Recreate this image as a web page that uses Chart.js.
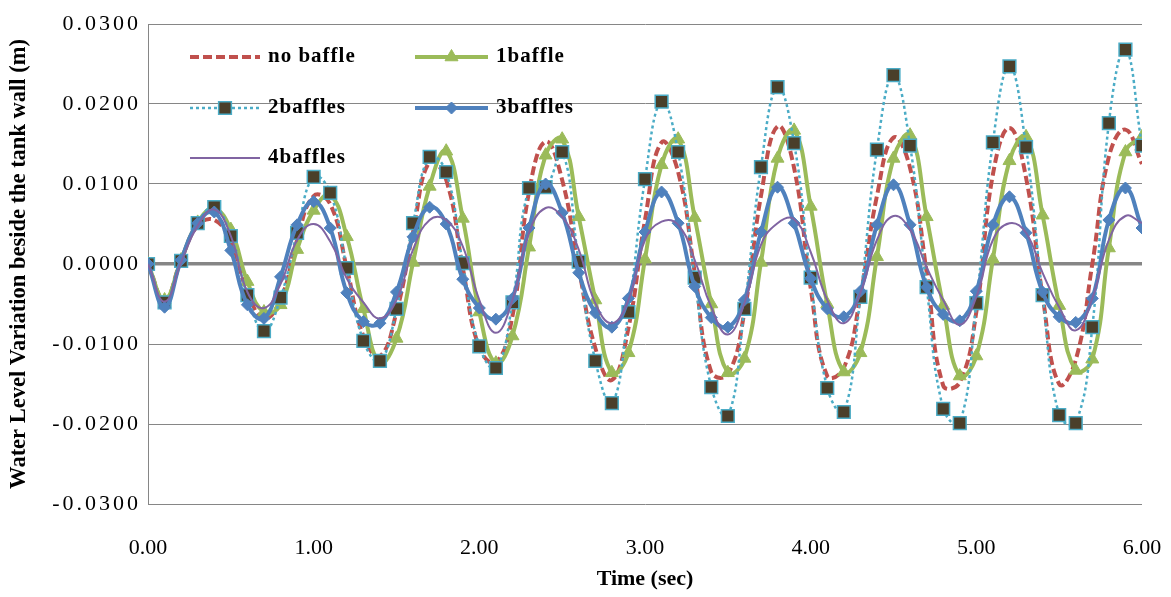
<!DOCTYPE html>
<html>
<head>
<meta charset="utf-8">
<title>Water level variation</title>
<script src="https://cdn.jsdelivr.net/npm/chart.js@4.4.0/dist/chart.umd.min.js"></script>
<style>
html, body { margin: 0; padding: 0; background: #ffffff; }
#wrap { width: 1171px; height: 597px; }
</style>
</head>
<body>
<div id="wrap"><canvas id="waveChart" width="1171" height="597"></canvas></div>
<script>
'use strict'

// 時間 (sec)
var timeSec = [0.0, 0.1, 0.2, 0.3, 0.4, 0.5, 0.6, 0.7, 0.8, 0.9,
    1.0, 1.1, 1.2, 1.3, 1.4, 1.5, 1.6, 1.7, 1.8, 1.9,
    2.0, 2.1, 2.2, 2.3, 2.4, 2.5, 2.6, 2.7, 2.8, 2.9,
    3.0, 3.1, 3.2, 3.3, 3.4, 3.5, 3.6, 3.7, 3.8, 3.9,
    4.0, 4.1, 4.2, 4.3, 4.4, 4.5, 4.6, 4.7, 4.8, 4.9,
    5.0, 5.1, 5.2, 5.3, 5.4, 5.5, 5.6, 5.7, 5.8, 5.9,
    6.0];

// 水位変動 (m)
var noBaffle = [0, -0.0045, 0.0005, 0.0048, 0.0055, 0.0028, -0.0035, -0.0068, -0.0045, 0.0030,
    0.0085, 0.0075, -0.0005, -0.0090, -0.0115, -0.0060, 0.0040, 0.0128, 0.0105, -0.0005,
    -0.0105, -0.0123, -0.0065, 0.0090, 0.0153, 0.0105, -0.0005, -0.0105, -0.0145, -0.0080,
    0.0055, 0.0152, 0.0115, -0.0010, -0.0135, -0.0138, -0.0060, 0.0085, 0.0172, 0.0120,
    -0.0030, -0.0140, -0.0130, -0.0040, 0.0085, 0.0158, 0.0120, -0.0010, -0.0152, -0.0148,
    -0.0060, 0.0112, 0.0170, 0.0108, -0.0040, -0.0150, -0.0120, 0.0000, 0.0134, 0.0168,
    0.0125];

var oneBaffle = [0, -0.0045, 0.0005, 0.0052, 0.0069, 0.0043, -0.0022, -0.0060, -0.0051, 0.0018,
    0.0067, 0.0086, 0.0034, -0.0056, -0.0123, -0.0093, 0.0002, 0.0097, 0.0141, 0.0057,
    -0.0060, -0.0124, -0.0090, 0.0021, 0.0136, 0.0156, 0.0059, -0.0045, -0.0136, -0.0111,
    0.0006, 0.0124, 0.0156, 0.0058, -0.0050, -0.0136, -0.0118, 0.0002, 0.0132, 0.0167,
    0.0072, -0.0050, -0.0135, -0.0111, 0.0009, 0.0132, 0.0161, 0.0059, -0.0052, -0.0140,
    -0.0115, 0.0006, 0.0129, 0.0159, 0.0061, -0.0052, -0.0133, -0.0119, 0.0020, 0.0140,
    0.0159];

var twoBaffles = [0, -0.0048, 0.0004, 0.0051, 0.0071, 0.0035, -0.0039, -0.0084, -0.0042, 0.0039,
    0.0109, 0.0089, -0.0005, -0.0096, -0.0121, -0.0056, 0.0051, 0.0134, 0.0115, 0.0001,
    -0.0103, -0.0130, -0.0048, 0.0095, 0.0096, 0.0140, 0.0003, -0.0121, -0.0174, -0.0060,
    0.0106, 0.0203, 0.0140, -0.0017, -0.0154, -0.0190, -0.0056, 0.0121, 0.0221, 0.0151,
    -0.0017, -0.0155, -0.0185, -0.0041, 0.0143, 0.0236, 0.0148, -0.0029, -0.0181, -0.0199,
    -0.0049, 0.0152, 0.0247, 0.0146, -0.0039, -0.0189, -0.0199, -0.0079, 0.0176, 0.0268,
    0.0148];

var threeBaffles = [0, -0.0054, 0.0005, 0.0051, 0.0065, 0.0017, -0.0051, -0.0068, -0.0016, 0.0049,
    0.0078, 0.0045, -0.0036, -0.0072, -0.0074, -0.0035, 0.0034, 0.0071, 0.0050, -0.0019,
    -0.0055, -0.0069, -0.0043, 0.0045, 0.0100, 0.0064, -0.0011, -0.0061, -0.0079, -0.0043,
    0.0040, 0.0090, 0.0051, -0.0028, -0.0067, -0.0079, -0.0045, 0.0040, 0.0096, 0.0051,
    -0.0018, -0.0056, -0.0066, -0.0034, 0.0049, 0.0099, 0.0049, -0.0029, -0.0063, -0.0071,
    -0.0034, 0.0049, 0.0084, 0.0039, -0.0035, -0.0066, -0.0073, -0.0043, 0.0055, 0.0095,
    0.0045];

var fourBaffles = [0, -0.0047, 0.0002, 0.0048, 0.0068, 0.0035, -0.0035, -0.0055, -0.0025, 0.0030,
    0.0050, 0.0028, -0.0018, -0.0048, -0.0068, -0.0045, 0.0018, 0.0055, 0.0055, 0.0022,
    -0.0045, -0.0086, -0.0045, 0.0039, 0.0070, 0.0059, 0.0018, -0.0049, -0.0074, -0.0045,
    0.0030, 0.0053, 0.0049, 0.0005, -0.0054, -0.0088, -0.0049, 0.0024, 0.0051, 0.0056,
    0.0015, -0.0045, -0.0074, -0.0036, 0.0030, 0.0060, 0.0043, -0.0004, -0.0045, -0.0076,
    -0.0041, 0.0030, 0.0051, 0.0039, -0.0011, -0.0054, -0.0083, -0.0043, 0.0030, 0.0060,
    0.0051];

var seriesNames = ['no baffle', '1baffle', '2baffles', '3baffles', '4baffles'];
var xTicks = [0, 1, 2, 3, 4, 5, 6];
var yTicks = [-0.03, -0.02, -0.01, 0, 0.01, 0.02, 0.03];

var fontFamily = "'Liberation Serif', 'Times New Roman', serif";
var gridColor = '#868686';

function toPoints(values) {
    return values.map(function (v, i) {
        return { x: timeSec[i], y: v };
    });
}

// 系列の線スタイル
var lineStyles = [
    { color: '#C0504D', width: 4, dash: [9, 4], point: false },
    { color: '#9BBB59', width: 4, dash: [], point: 'triangle', radius: 7.5, fill: '#9BBB59', edge: '#9BBB59' },
    { color: '#4BACC6', width: 2.5, dash: [3, 3], point: 'rect', radius: 9, fill: '#4A3F2A', edge: '#4BACC6' },
    { color: '#4F81BD', width: 4, dash: [], point: 'rectRot', radius: 6, fill: '#4F81BD', edge: '#4F81BD' },
    { color: '#8064A2', width: 2, dash: [], point: false }
];

var seriesValues = [noBaffle, oneBaffle, twoBaffles, threeBaffles, fourBaffles];

function createDataSets() {
    var ret = [];
    for (var i = 0; i < seriesValues.length; i++) {
        var st = lineStyles[i];
        ret.push({
            label: seriesNames[i],
            data: toPoints(seriesValues[i]),
            borderColor: st.color,
            borderWidth: st.width,
            borderDash: st.dash,
            tension: 0.45,
            fill: false,
            pointStyle: st.point ? st.point : 'circle',
            pointRadius: st.point ? st.radius : 0,
            pointBackgroundColor: st.fill,
            pointBorderColor: st.edge,
            pointBorderWidth: st.point === 'rect' ? 1.5 : 1,
            // 後の系列を上に描く
            order: seriesValues.length - i
        });
    }
    return ret;
}

// 凡例マーカー
function drawMarker(ctx, style, x, y, r) {
    ctx.beginPath();
    if (style === 'triangle') {
        ctx.moveTo(x, y - r);
        ctx.lineTo(x + r * 0.866, y + r * 0.5);
        ctx.lineTo(x - r * 0.866, y + r * 0.5);
        ctx.closePath();
    } else if (style === 'rect') {
        var s = r * Math.SQRT1_2;
        ctx.rect(x - s, y - s, 2 * s, 2 * s);
    } else if (style === 'rectRot') {
        ctx.moveTo(x, y - r);
        ctx.lineTo(x + r, y);
        ctx.lineTo(x, y + r);
        ctx.lineTo(x - r, y);
        ctx.closePath();
    }
    ctx.fill();
    ctx.stroke();
}

var insideLegend = {
    id: 'insideLegend',
    afterDraw: function (chart) {
        var ctx = chart.ctx;
        var slots = [[190, 57], [415, 57], [190, 108], [415, 108], [190, 158]];
        ctx.save();
        for (var i = 0; i < seriesNames.length; i++) {
            var st = lineStyles[i];
            var x = slots[i][0], y = slots[i][1];
            var len = i % 2 === 0 ? 70 : 73;
            ctx.strokeStyle = st.color;
            ctx.lineWidth = st.width;
            ctx.setLineDash(st.dash);
            ctx.beginPath();
            ctx.moveTo(x, y);
            ctx.lineTo(x + len, y);
            ctx.stroke();
            ctx.setLineDash([]);
            if (st.point) {
                ctx.fillStyle = st.fill;
                ctx.strokeStyle = st.edge;
                ctx.lineWidth = st.point === 'rect' ? 1.5 : 1;
                drawMarker(ctx, st.point, x + len / 2, y, st.radius);
            }
            ctx.fillStyle = '#000000';
            ctx.font = 'bold 21px ' + fontFamily;
            ctx.letterSpacing = '1px';
            ctx.textAlign = 'left';
            ctx.textBaseline = 'middle';
            ctx.fillText(seriesNames[i], x + len + 8, y);
        }
        ctx.restore();
    }
};

// 縦軸ラベルは字間を広げて描く
function spacedLabels(scale) {
    if (scale._spaced) return;
    var orig = scale.drawLabels;
    scale.drawLabels = function (area) {
        this.ctx.save();
        this.ctx.letterSpacing = '3px';
        orig.call(this, area);
        this.ctx.restore();
    };
    scale._spaced = true;
}

window.onload = function () {
    var ctx = document.getElementById('waveChart');
    new Chart(ctx, {
        type: 'line',
        data: { datasets: createDataSets() },
        plugins: [insideLegend],
        options: {
            responsive: false,
            animation: false,
            events: [],
            layout: { padding: { top: 24, right: 29, left: 0, bottom: 0 } },
            plugins: {
                legend: { display: false },
                tooltip: { enabled: false }
            },
            scales: {
                x: {
                    type: 'linear',
                    min: 0,
                    max: 6,
                    afterBuildTicks: function (scale) {
                        scale.ticks = xTicks.map(function (v) { return { value: v }; });
                    },
                    afterFit: function (scale) {
                        scale.height = 93;
                        scale.paddingLeft = 0;
                        scale.paddingRight = 0;
                    },
                    grid: { display: false, drawTicks: false },
                    border: { display: false },
                    ticks: {
                        padding: 31,
                        maxRotation: 0,
                        color: '#000000',
                        font: { family: fontFamily, size: 22 },
                        callback: function (v) { return Number(v).toFixed(2); }
                    },
                    title: {
                        display: true,
                        text: 'Time (sec)',
                        color: '#000000',
                        font: { family: fontFamily, size: 22, weight: 'bold' },
                        padding: { top: 0, bottom: 4 }
                    }
                },
                y: {
                    type: 'linear',
                    min: -0.03,
                    max: 0.03,
                    afterBuildTicks: function (scale) {
                        scale.ticks = yTicks.map(function (v) { return { value: v }; });
                    },
                    afterFit: function (scale) {
                        scale.width = 148;
                        scale.paddingTop = 0;
                        scale.paddingBottom = 0;
                    },
                    afterUpdate: spacedLabels,
                    grid: {
                        color: gridColor,
                        drawTicks: false,
                        lineWidth: function (c) {
                            return c.tick && Math.abs(c.tick.value) < 1e-9 ? 3.5 : 1;
                        }
                    },
                    border: { display: true, color: gridColor, width: 1 },
                    ticks: {
                        padding: 7,
                        color: '#000000',
                        font: { family: fontFamily, size: 22 },
                        callback: function (v) { return Number(v).toFixed(4); }
                    },
                    title: {
                        display: true,
                        text: 'Water Level Variation beside the tank wall (m)',
                        color: '#000000',
                        font: { family: fontFamily, size: 22.5, weight: 'bold' },
                        padding: { top: 6, bottom: 0 }
                    }
                }
            }
        }
    });
};
</script>
</body>
</html>
